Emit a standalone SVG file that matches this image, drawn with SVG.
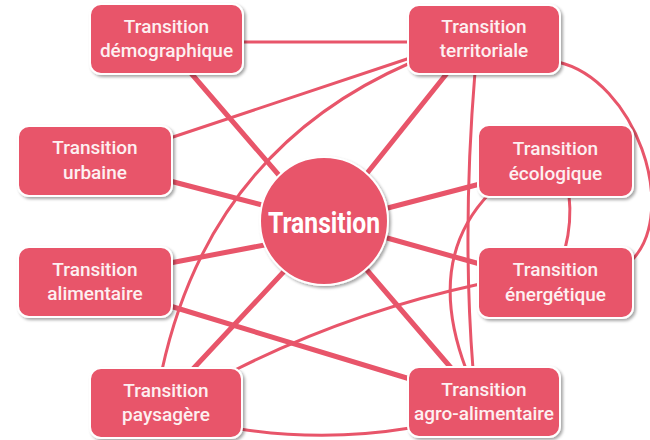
<svg xmlns="http://www.w3.org/2000/svg" width="650" height="440" viewBox="0 0 650 440">
<defs>
<filter id="sh" x="-10%" y="-10%" width="125%" height="130%">
<feDropShadow dx="2" dy="2" stdDeviation="1.5" flood-color="#000" flood-opacity="0.35"/>
</filter>
</defs>
<style>
.bx{fill:#e8556a;stroke:#ffffff;stroke-width:2;filter:url(#sh)}
.t{font-family:Roboto,"Liberation Sans",sans-serif;font-size:19px;font-weight:500;fill:#fdf0f1;text-anchor:middle}
.c{font-family:Roboto,"Liberation Sans",sans-serif;font-size:29px;font-weight:700;fill:#ffffff;text-anchor:middle}
.k{stroke:#e8556a;fill:none;stroke-linecap:round}
.w5{stroke-width:5}
.w3{stroke-width:3}
</style>
<rect width="650" height="440" fill="#ffffff"/>
<g id="connectors">
<line class="k w5" x1="190" y1="72" x2="290" y2="188"/>
<line class="k w5" x1="448" y1="72" x2="360" y2="182"/>
<line class="k w5" x1="170" y1="181" x2="270" y2="207"/>
<line class="k w5" x1="380" y1="210" x2="480" y2="184"/>
<line class="k w5" x1="380" y1="236" x2="480" y2="264"/>
<line class="k w5" x1="170" y1="263" x2="270" y2="244"/>
<line class="k w5" x1="192" y1="370" x2="290" y2="265"/>
<line class="k w5" x1="452" y1="369" x2="360" y2="262"/>
<line class="k w3" x1="240" y1="42" x2="410" y2="42"/>
<line class="k w3" x1="170" y1="138" x2="410" y2="58"/>
<line class="k w5" x1="170" y1="306" x2="410" y2="379"/>
<path class="k w3" d="M235,370 Q350,312 480,284"/>
<path class="k w3" d="M240,429 Q325,442 410,428"/>
<path class="k w3" d="M162,370 Q210,150 410,63"/>
<path class="k w3" d="M490,193 Q425,260 466,369"/>
<path class="k w3" d="M475,72 Q462,230 473,369"/>
<path class="k w3" d="M558,62 C635,80 680,210 632,260"/>
<path class="k w3" d="M569,195 Q572,222 565,249"/>
</g>
<g id="center">
<circle class="bx" cx="324" cy="221" r="64"/>
<text class="c" x="324" y="233" textLength="112" lengthAdjust="spacingAndGlyphs">Transition</text>
</g>
<g id="demographique">
<rect class="bx" x="90" y="4" width="153" height="70" rx="11"/>
<text class="t" x="166.5" y="33">Transition</text>
<text class="t" x="166.5" y="57">démographique</text>
</g>
<g id="territoriale">
<rect class="bx" x="408" y="5" width="152" height="69" rx="11"/>
<text class="t" x="484" y="33">Transition</text>
<text class="t" x="484" y="57">territoriale</text>
</g>
<g id="urbaine">
<rect class="bx" x="18" y="126" width="154" height="70" rx="11"/>
<text class="t" x="95" y="154">Transition</text>
<text class="t" x="95" y="179">urbaine</text>
</g>
<g id="ecologique">
<rect class="bx" x="478" y="125" width="155" height="72" rx="11"/>
<text class="t" x="555.5" y="155">Transition</text>
<text class="t" x="555.5" y="180">écologique</text>
</g>
<g id="energetique">
<rect class="bx" x="478" y="247" width="155" height="71" rx="11"/>
<text class="t" x="555.5" y="276">Transition</text>
<text class="t" x="555.5" y="301">énergétique</text>
</g>
<g id="alimentaire">
<rect class="bx" x="18" y="247" width="154" height="70" rx="11"/>
<text class="t" x="95" y="276">Transition</text>
<text class="t" x="95" y="300">alimentaire</text>
</g>
<g id="paysagere">
<rect class="bx" x="90" y="368" width="152" height="70" rx="11"/>
<text class="t" x="166" y="397">Transition</text>
<text class="t" x="166" y="421">paysagère</text>
</g>
<g id="agro-alimentaire">
<rect class="bx" x="408" y="367" width="152" height="70" rx="11"/>
<text class="t" x="484" y="396">Transition</text>
<text class="t" x="484" y="420">agro-alimentaire</text>
</g>
</svg>
